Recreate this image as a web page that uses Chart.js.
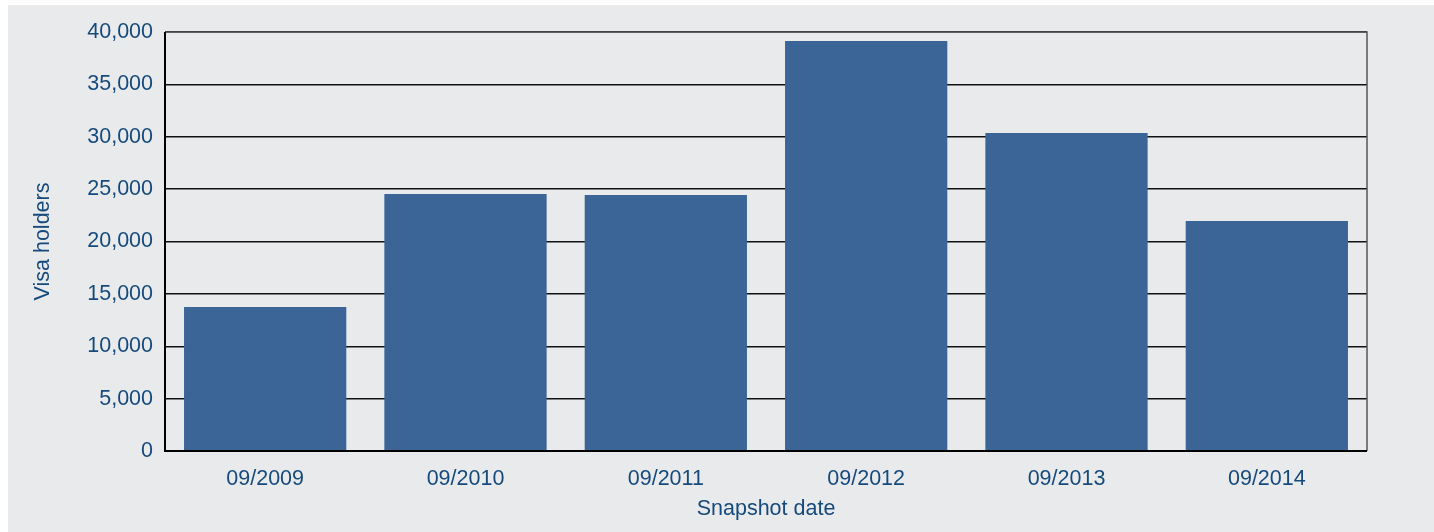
<!DOCTYPE html>
<html>
<head>
<meta charset="utf-8">
<script src="https://cdn.jsdelivr.net/npm/chart.js@4"></script>
<style>
  body { margin: 0; background: #ffffff; }
  #wrap { position: absolute; left: 8px; top: 5px; width: 1426px; height: 527px; background: #e9eaec; }
</style>
</head>
<body>
<div id="wrap"><canvas id="barchart"></canvas></div>
<script>
// snapshot data
let dates = ["09/2009", "09/2010", "09/2011", "09/2012", "09/2013", "09/2014"];
let holders = [13750, 24530, 24440, 39140, 30360, 21960];
let yTicks = [0, 5000, 10000, 15000, 20000, 25000, 30000, 35000, 40000];

const textColor = "#164a7c";
const fontSpec = { family: "Liberation Sans, Arial", size: 21.5 };

// frame round the plot area
const frame = {
    id: "frame",
    afterDraw(chart) {
        const a = chart.chartArea;
        const ctx = chart.ctx;
        ctx.save();
        ctx.strokeStyle = "#555555";
        ctx.lineWidth = 1.5;
        ctx.beginPath();
        ctx.moveTo(a.left, a.top);
        ctx.lineTo(a.right, a.top);
        ctx.lineTo(a.right, a.bottom);
        ctx.stroke();
        ctx.strokeStyle = "#000000";
        ctx.lineWidth = 2;
        ctx.beginPath();
        ctx.moveTo(a.left, a.top);
        ctx.lineTo(a.left, a.bottom);
        ctx.lineTo(a.right, a.bottom);
        ctx.stroke();
        ctx.restore();
    }
};

var barchart = document.getElementById("barchart").getContext('2d');

var chartview = new Chart(barchart, {
    type: 'bar',
    data: {
        labels: dates,
        datasets: [{
            label: "Visa holders",
            data: holders,
            backgroundColor: "#3a6596",
            barPercentage: 0.81,
            categoryPercentage: 1.0
        }]
    },
    options: {
        responsive: true,
        maintainAspectRatio: false,
        animation: false,
        layout: { padding: { top: 27, right: 67, bottom: 10, left: 0 } },
        plugins: {
            legend: { display: false },
            tooltip: { enabled: false }
        },
        scales: {
            x: {
                grid: { display: false },
                border: { display: false },
                ticks: {
                    color: textColor,
                    font: fontSpec,
                    padding: 7
                },
                title: {
                    display: true,
                    text: "Snapshot date",
                    color: textColor,
                    font: fontSpec,
                    padding: { top: 0, bottom: 0 }
                },
                afterFit: function (scale) { scale.height = 71; }
            },
            y: {
                min: 0,
                max: 40000,
                afterBuildTicks: function (scale) {
                    scale.ticks = yTicks.map(v => ({ value: v }));
                },
                grid: { color: "#111111", lineWidth: 1.5, drawTicks: false },
                border: { display: false },
                ticks: {
                    color: textColor,
                    font: fontSpec,
                    padding: 12,
                    callback: function (v) { return v.toLocaleString("en-US"); }
                },
                title: {
                    display: true,
                    text: "Visa holders",
                    color: textColor,
                    font: fontSpec,
                    padding: { top: 22, bottom: 0 }
                },
                afterFit: function (scale) { scale.width = 157; }
            }
        }
    },
    plugins: [frame]
});
</script>
</body>
</html>
